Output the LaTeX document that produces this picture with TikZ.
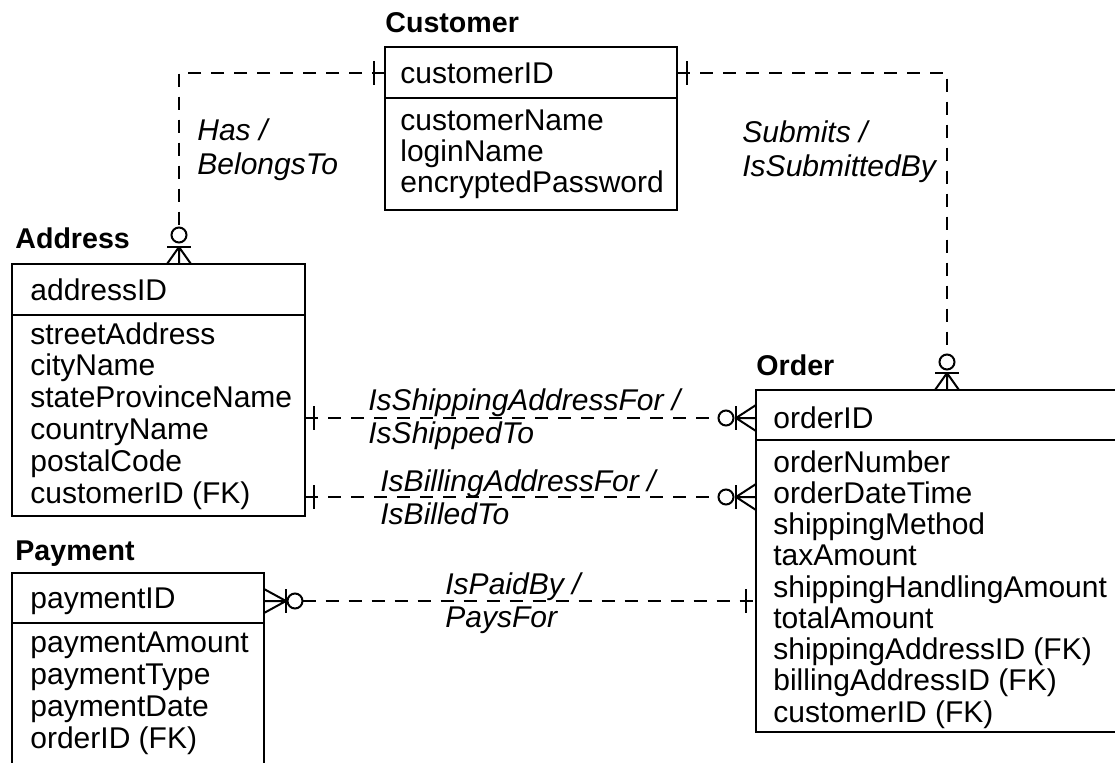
\documentclass[tikz,border=0pt]{standalone}
\usepackage{fontspec}
\setmainfont{Liberation Sans}
\begin{document}
\begin{tikzpicture}[x=0.5pt,y=-0.5pt,
  box/.style={draw, line width=1.2pt, inner sep=0pt, outer sep=0pt, anchor=north west},
  conn/.style={line width=1pt, dash pattern=on 6.5pt off 5pt},
  sym/.style={line width=1pt},
  ring/.style={draw, circle, line width=1pt, minimum size=7.5pt, inner sep=0pt, outer sep=0pt},
  title/.style={font=\fontsize{14.3}{17}\selectfont\bfseries, anchor=base west, inner sep=0pt},
  attr/.style={font=\fontsize{15}{18}\selectfont, anchor=base west, inner sep=0pt},
  rel/.style={font=\fontsize{15}{18}\selectfont\itshape, anchor=base west, inner sep=0pt}]
\useasboundingbox (0,0) rectangle (1115,762);
\clip (0,0) rectangle (1115,762);

% ---------- Customer ----------
\node[title] (custT) at (385,32) {Customer};
\node[box, minimum width=146pt, minimum height=25.5pt] (custK) at (385,47) {};
\node[box, minimum width=146pt, minimum height=56pt] (custA) at (385,98) {};
\node[attr] (custK1) at (400,83) {customerID};
\foreach \t [count=\i from 0] in {customerName,loginName,encryptedPassword}
  \node[attr] (custA\i) at (400,{130+31*\i}) {\t};

% ---------- Address ----------
\node[title] (addrT) at (15,248) {Address};
\node[box, minimum width=146.5pt, minimum height=25.5pt] (addrK) at (12,264) {};
\node[box, minimum width=146.5pt, minimum height=100.5pt] (addrA) at (12,315) {};
\node[attr] (addrK1) at (30,300) {addressID};
\foreach \t [count=\i from 0] in {streetAddress,cityName,stateProvinceName,countryName,postalCode,customerID (FK)}
  \node[attr] (addrA\i) at (30,{344+31.8*\i}) {\t};

% ---------- Payment ----------
\node[title] (payT) at (15,560) {Payment};
\node[box, minimum width=126pt, minimum height=25pt] (payK) at (12,573) {};
\node[box, minimum width=126pt, minimum height=100pt] (payA) at (12,623) {};
\node[attr] (payK1) at (30,608) {paymentID};
\foreach \t [count=\i from 0] in {paymentAmount,paymentType,paymentDate,orderID (FK)}
  \node[attr] (payA\i) at (30,{652+32*\i}) {\t};

% ---------- Order ----------
\node[title] (ordT) at (756,375) {Order};
\node[box, minimum width=190pt, minimum height=25pt] (ordK) at (756,390) {};
\node[box, minimum width=190pt, minimum height=146pt] (ordA) at (756,440) {};
\node[attr] (ordK1) at (773,428) {orderID};
\foreach \t [count=\i from 0] in {orderNumber,orderDateTime,shippingMethod,taxAmount,shippingHandlingAmount,totalAmount,shippingAddressID (FK),billingAddressID (FK),customerID (FK)}
  \node[attr] (ordA\i) at (773,{472+31.25*\i}) {\t};

% ---------- Customer - Address ----------
\node[ring] (caO) at (179,235) {};
\draw[conn] (custK.west) -| (caO.north);
\draw[sym] (374,61) -- (374,85);
\draw[sym] (167,247) -- (191,247);
\draw[sym] (179,247) -- (167,264) (179,247) -- (179,264) (179,247) -- (191,264);
\node[rel] (caL1) at (197,140) {Has /};
\node[rel] (caL2) at (197,174) {BelongsTo};

% ---------- Customer - Order ----------
\node[ring] (coO) at (947,362) {};
\draw[conn] (custK.east) -| (coO.north);
\draw[sym] (687,61) -- (687,85);
\draw[sym] (935,373) -- (959,373);
\draw[sym] (947,373) -- (935,390) (947,373) -- (947,390) (947,373) -- (959,390);
\node[rel] (coL1) at (742,142) {Submits /};
\node[rel] (coL2) at (742,176) {IsSubmittedBy};

% ---------- Address - Order (shipping) ----------
\coordinate (shA) at (addrA.east |- 0,418);
\node[ring] (shO) at (726,418) {};
\draw[conn] (shA) -- (shO.west);
\draw[sym] (314,406) -- (314,430);
\draw[sym] (736,406) -- (736,430);
\draw[sym] (736,418) -- (756,405) (736,418) -- (756,418) (736,418) -- (756,431);
\node[rel] (shL1) at (368,410) {IsShippingAddressFor /};
\node[rel] (shL2) at (368,443) {IsShippedTo};

% ---------- Address - Order (billing) ----------
\coordinate (biA) at (addrA.east |- 0,497);
\node[ring] (biO) at (726,497) {};
\draw[conn] (biA) -- (biO.west);
\draw[sym] (314,485) -- (314,509);
\draw[sym] (736,485) -- (736,509);
\draw[sym] (736,497) -- (756,484) (736,497) -- (756,497) (736,497) -- (756,510);
\node[rel] (biL1) at (380,491) {IsBillingAddressFor /};
\node[rel] (biL2) at (380,524) {IsBilledTo};

% ---------- Payment - Order ----------
\coordinate (poB) at (ordA.west |- 0,601);
\node[ring] (poO) at (295,601) {};
\draw[conn] (poO.east) -- (poB);
\draw[sym] (286,589) -- (286,613);
\draw[sym] (286,601) -- (264,589) (286,601) -- (264,601) (286,601) -- (264,613);
\draw[sym] (746,589) -- (746,613);
\node[rel] (poL1) at (445,594) {IsPaidBy /};
\node[rel] (poL2) at (445,627) {PaysFor};
\end{tikzpicture}
\end{document}
